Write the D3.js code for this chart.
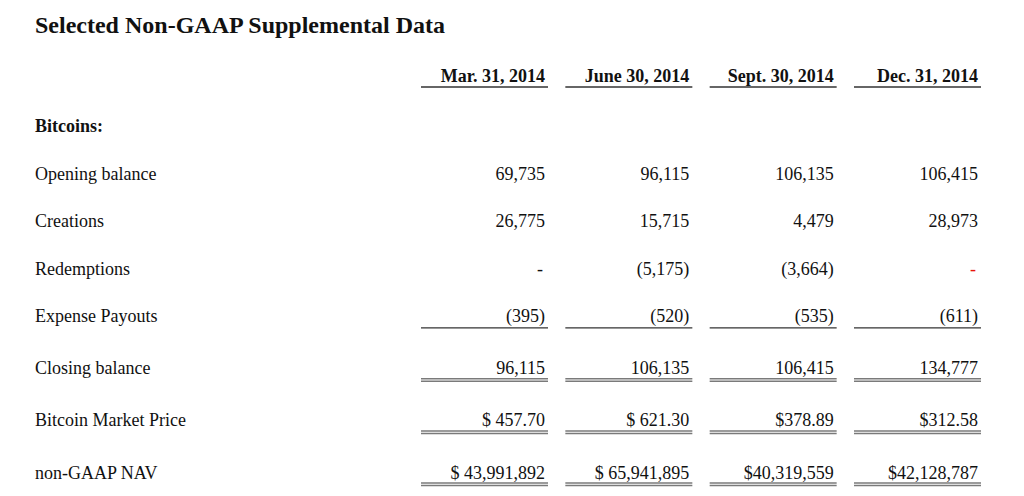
<!DOCTYPE html>
<html>
<head>
<meta charset="utf-8">
<script src="https://cdn.jsdelivr.net/npm/d3@7"></script>
<style>
  body { margin: 0; background: #fff; }
  text { font-family: "Liberation Serif", "Times New Roman", serif; fill: #111; }
  .title { font-size: 24px; font-weight: bold; }
  .head { font-size: 18px; font-weight: bold; }
  .cell, .label { font-size: 18px; }
</style>
</head>
<body>
<script>
var width = 1024, height = 496;

var title = "Selected Non-GAAP Supplemental Data";
var columns = ["Mar. 31, 2014", "June 30, 2014", "Sept. 30, 2014", "Dec. 31, 2014"];
var section = "Bitcoins:";
var rowLabels = ["Opening balance", "Creations", "Redemptions", "Expense Payouts",
                 "Closing balance", "Bitcoin Market Price", "non-GAAP NAV"];

var openingBalance = [69735, 96115, 106135, 106415];
var creations = [26775, 15715, 4479, 28973];
var redemptions = [null, -5175, -3664, null];
var expensePayouts = [-395, -520, -535, -611];
var closingBalance = [96115, 106135, 106415, 134777];
var marketPrice = [457.70, 621.30, 378.89, 312.58];
var nav = [43991892, 65941895, 40319559, 42128787];
var dollarSign = ["$ ", "$ ", "$", "$"];

// rule under each row: 0 none, 1 single, 2 double
var rules = [0, 0, 0, 1, 2, 2, 2];

var fmtInt = d3.format(",d"), fmtPrice = d3.format(",.2f");
function qty(v) {
  if (v == null) return "-";
  return v < 0 ? "(" + fmtInt(-v) + ")" : fmtInt(v);
}
var rows = [
  {values: openingBalance, f: qty},
  {values: creations, f: qty},
  {values: redemptions, f: qty},
  {values: expensePayouts, f: qty},
  {values: closingBalance, f: qty},
  {values: marketPrice, f: function(v, j) { return dollarSign[j] + fmtPrice(v); }},
  {values: nav, f: function(v, j) { return dollarSign[j] + fmtInt(v); }}
];
rows.forEach(function(r, i) { r.label = rowLabels[i]; r.rule = rules[i]; r.index = i; });

var svg = d3.select("body").append("svg")
    .attr("width", width)
    .attr("height", height);

// column right edges
var x = d3.scalePoint().domain(columns).range([545, 978]);
var colW = 124;

// row baselines, nudged down a bit below every ruled row
var y = d3.scalePoint().domain([section].concat(rowLabels)).range([132, 465]);
function rowY(i) {
  var bump = 0;
  for (var k = 0; k < i; k++) if (rules[k]) bump += 4.5;
  return y(rowLabels[i]) + bump;
}

svg.append("text")
    .attr("class", "title")
    .attr("x", 35)
    .attr("y", 33)
    .text(title);

// column headings with underline
var head = svg.selectAll(".colhead")
    .data(columns)
  .enter().append("g")
    .attr("class", "colhead");

head.append("text")
    .attr("class", "head")
    .attr("x", function(d) { return x(d); })
    .attr("y", 82)
    .attr("text-anchor", "end")
    .text(String);

head.append("line")
    .attr("x1", function(d) { return x(d) - colW; })
    .attr("x2", function(d) { return x(d) + 3; })
    .attr("y1", 87)
    .attr("y2", 87)
    .style("stroke", "#333")
    .style("stroke-width", 1.3);

svg.append("text")
    .attr("class", "head")
    .attr("x", 35)
    .attr("y", y(section))
    .text(section);

var row = svg.selectAll(".row")
    .data(rows)
  .enter().append("g")
    .attr("class", "row")
    .attr("transform", function(d) { return "translate(0," + rowY(d.index) + ")"; });

row.append("text")
    .attr("class", "label")
    .attr("x", 35)
    .text(function(d) { return d.label; });

var cell = row.selectAll(".c")
    .data(function(d) {
      return d.values.map(function(v, j) { return {v: v, j: j, row: d}; });
    })
  .enter().append("g")
    .attr("class", "c");

cell.append("text")
    .attr("class", "cell")
    .attr("x", function(d) { return x(columns[d.j]) - (d.v == null ? 2 : 0); })
    .attr("text-anchor", "end")
    .style("fill", function(d) { return d.v == null && d.j == 3 ? "#e8130b" : null; })
    .text(function(d) { return d.row.f(d.v, d.j); });

// single rule
cell.filter(function(d) { return d.row.rule == 1; })
  .append("line")
    .attr("x1", function(d) { return x(columns[d.j]) - colW; })
    .attr("x2", function(d) { return x(columns[d.j]) + 3; })
    .attr("y1", 5.5)
    .attr("y2", 5.5)
    .style("stroke", "#333")
    .style("stroke-width", 1.2);

// double rule
cell.filter(function(d) { return d.row.rule == 2; })
  .selectAll(".dbl")
    .data(function(d) { return [4.5, 7].map(function(o) { return {o: o, j: d.j}; }); })
  .enter().append("line")
    .attr("x1", function(d) { return x(columns[d.j]) - colW; })
    .attr("x2", function(d) { return x(columns[d.j]) + 3; })
    .attr("y1", function(d) { return d.o; })
    .attr("y2", function(d) { return d.o; })
    .style("stroke", "#7a7a7a")
    .style("stroke-width", 1.5);
</script>
</body>
</html>
